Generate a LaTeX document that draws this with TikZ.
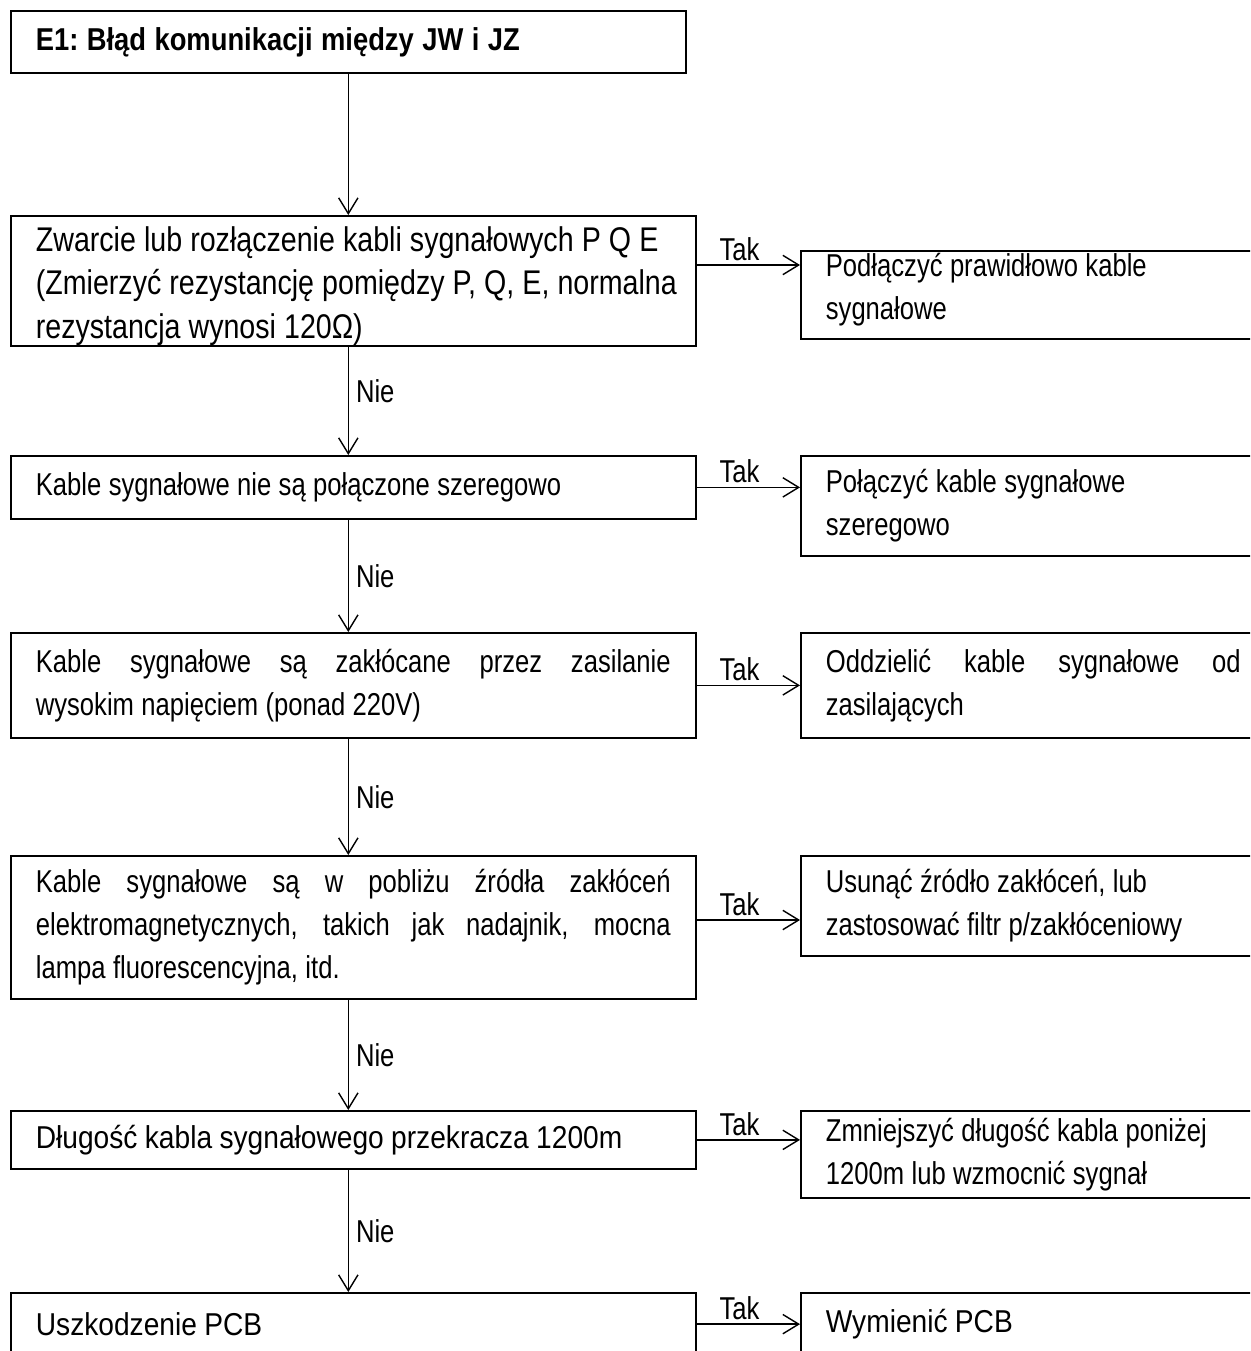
\documentclass[tikz,border=0pt]{standalone}
\usepackage{fontspec}
\setmainfont{Liberation Sans}
\newfontfamily\flowfont[FakeStretch=0.81]{Liberation Sans}
\newfontfamily\flowwidefont[FakeStretch=0.835]{Liberation Sans}
\newfontfamily\flowlongfont[FakeStretch=0.89]{Liberation Sans}
\newfontfamily\flowtitlefont[FakeStretch=0.865]{Liberation Sans}
\newcommand\flowgap[1]{\spaceskip=#1 plus 3pt minus 1pt\xspaceskip=\spaceskip}
\usetikzlibrary{positioning,arrows.meta}

\tikzset{
  box/.style={draw, line width=1pt, anchor=north west, inner xsep=0.5cm, inner ysep=0pt,
    align=left, font=\flowfont\fontsize{18}{24.5}\selectfont,
    execute at begin node={\flowgap{4.2pt}}},
  qbox/.style={box, text width=12.7cm},
  abox/.style={box, text width=8.3cm},
  flow/.style={line width=0.8pt, -{Straight Barb[length=9pt,width=11pt]}},
  lbl/.style={font=\flowfont\fontsize{18}{20}\selectfont, inner xsep=4pt, inner ysep=2pt},
}

\begin{document}
\begin{tikzpicture}[x=0.02cm, y=-0.02cm]
\clip (0,0) rectangle (1250,1351);

\node[box, text width=12.5cm, minimum height=1.24cm, font=\flowtitlefont\bfseries\fontsize{18}{20}\selectfont,
  execute at begin node={\flowgap{4.8pt}}] (title) at (10,10)
  {E1: Błąd komunikacji między JW i JZ};

% checks on the left
\node[qbox, minimum height=2.6cm, font=\flowwidefont\fontsize{19.5}{25}\selectfont,
  execute at begin node={\flowgap{4.6pt}}] (qA) at (10,215)
  {\mbox{\rule{0pt}{20pt}Zwarcie lub rozłączenie kabli sygnałowych P Q E}\\
   \mbox{(Zmierzyć rezystancję pomiędzy P, Q, E, normalna}\\
   \mbox{rezystancja wynosi 120Ω)}};
\node[qbox, minimum height=1.26cm] (qB) at (10,455)
  {Kable sygnałowe nie są połączone szeregowo};
\node[qbox, minimum height=2.1cm, align=justify] (qC) at (10,632)
  {Kable sygnałowe są zakłócane przez zasilanie\linebreak
   wysokim napięciem (ponad 220V)};
\node[qbox, minimum height=2.86cm, align=justify] (qD) at (10,855)
  {Kable sygnałowe są w pobliżu źródła zakłóceń\linebreak
   elektromagnetycznych, takich jak nadajnik, mocna\linebreak
   lampa fluorescencyjna, itd.};
\node[qbox, minimum height=1.16cm, font=\flowlongfont\fontsize{18}{24.5}\selectfont] (qE) at (10,1110)
  {Długość kabla sygnałowego przekracza 1200m};
\node[qbox, minimum height=1.25cm, font=\flowlongfont\fontsize{18}{24.5}\selectfont] (qF) at (10,1292)
  {Uszkodzenie PCB};

% actions on the right
\node[abox, minimum height=1.76cm] (aA) at (800,250)
  {Podłączyć prawidłowo kable\\ sygnałowe\rule[-10pt]{0pt}{0pt}};
\node[abox, minimum height=2.0cm] (aB) at (800,455)
  {Połączyć kable sygnałowe\\ szeregowo};
\node[abox, minimum height=2.1cm, align=justify] (aC) at (800,632)
  {Oddzielić kable sygnałowe od\linebreak zasilających};
\node[abox, minimum height=2.0cm] (aD) at (800,855)
  {Usunąć źródło zakłóceń, lub\\ zastosować filtr p/zakłóceniowy};
\node[abox, minimum height=1.74cm] (aE) at (800,1110)
  {Zmniejszyć długość kabla poniżej\\ 1200m lub wzmocnić sygnał};
\node[abox, minimum height=1.25cm, font=\flowlongfont\fontsize{18}{24.5}\selectfont] (aF) at (800,1292)
  {Wymienić PCB};

\coordinate (tA) at (0,265);
\coordinate (tD) at (0,920);

% Nie
\draw[flow] (title.south) -- (title.south |- qA.north);
\draw[flow] (qA.south -| title.south) -- node[lbl, right, pos=0.41] {Nie} (qB.north -| title.south);
\draw[flow] (qB.south -| title.south) -- node[lbl, right] {Nie} (qC.north -| title.south);
\draw[flow] (qC.south -| title.south) -- node[lbl, right] {Nie} (qD.north -| title.south);
\draw[flow] (qD.south -| title.south) -- node[lbl, right] {Nie} (qE.north -| title.south);
\draw[flow] (qE.south -| title.south) -- node[lbl, right] {Nie} (qF.north -| title.south);

% Tak
\draw[flow] (qA.east |- tA) -- node[lbl, above, xshift=-5pt] {Tak} (aA.west |- tA);
\draw[flow] (qB.east) -- node[lbl, above, xshift=-5pt] {Tak} (qB.east -| aB.west);
\draw[flow] (qC.east) -- node[lbl, above, xshift=-5pt] {Tak} (qC.east -| aC.west);
\draw[flow] (qD.east |- tD) -- node[lbl, above, xshift=-5pt] {Tak} (aD.west |- tD);
\draw[flow] (qE.east) -- node[lbl, above, xshift=-5pt] {Tak} (qE.east -| aE.west);
\draw[flow] (qF.east) -- node[lbl, above, xshift=-5pt] {Tak} (qF.east -| aF.west);
\end{tikzpicture}
\end{document}
